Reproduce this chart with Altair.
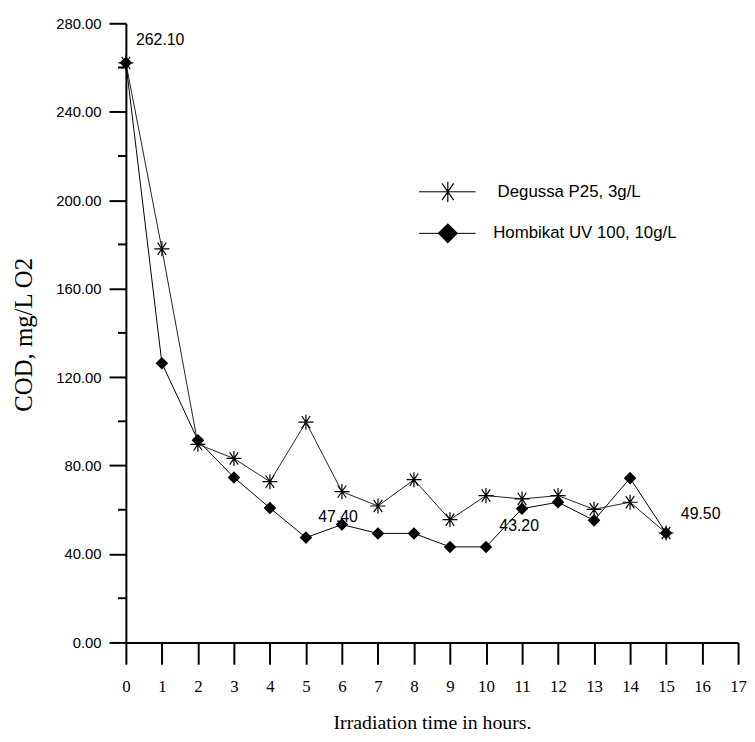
import altair as alt
import pandas as pd

# ---- data ----
hours = list(range(16))
degussa = [262.1, 178.0, 89.6, 83.2, 72.7, 99.6, 68.2, 61.7, 73.6, 55.5, 66.4, 64.9, 66.4, 60.2, 63.4, 49.5]
hombikat = [262.1, 126.3, 91.4, 74.6, 60.8, 47.4, 53.3, 49.3, 49.3, 43.2, 43.2, 60.5, 63.4, 55.2, 74.3, 49.5]

series_names = ["Degussa P25, 3g/L", "Hombikat UV 100, 10g/L"]

x_ticks = list(range(18))
y_ticks = [0, 40, 80, 120, 160, 200, 240, 280]
y_minor = [20, 60, 100, 140, 180, 220, 260]

ann_text = ["262.10", "47.40", "43.20", "49.50"]
ann_x = [0.28, 5.34, 10.37, 15.41]
ann_y = [272.5, 56.6, 52.6, 58.2]

# legend placement (data coordinates)
leg_y = [203.8, 185.0]
leg_line_x0 = [8.14, 8.14]
leg_line_x1 = [9.71, 9.71]
leg_sym_x = [8.94, 8.94]
leg_text_x = [10.32, 10.20]

STAR = "M0,-1L0,1M-1,0L1,0M-0.57,-0.82L0.57,0.82M-0.57,0.82L0.57,-0.82"
STAR_LEG = "M0,-1L0,1M-0.57,-0.82L0.57,0.82M-0.57,0.82L0.57,-0.82"

deg_df = pd.DataFrame({"h": hours, "v": degussa})
hom_df = pd.DataFrame({"h": hours, "v": hombikat})
ann_df = pd.DataFrame({"h": ann_x, "v": ann_y, "t": ann_text})
minor_df = pd.DataFrame({"v": y_minor})
leg_df = pd.DataFrame({"name": series_names, "v": leg_y, "x0": leg_line_x0,
                       "x1": leg_line_x1, "xs": leg_sym_x, "xt": leg_text_x})

xscale = alt.Scale(domain=[0, 17], nice=False, zero=False)
yscale = alt.Scale(domain=[0, 280], nice=False, zero=False)

xaxis = alt.Axis(values=x_ticks, tickSize=22, labelPadding=15, labelAngle=0,
                 labelFont="Liberation Serif", labelFontSize=17, labelColor="black",
                 labelOverlap=False, labelFlush=False,
                 title="Irradiation time in hours.", titleFont="Liberation Serif",
                 titleFontSize=20, titleFontWeight="normal", titleColor="black",
                 titleX=309, titleY=81, titleBaseline="middle", titleAlign="center",
                 grid=False, domainColor="black", domainWidth=2, tickColor="black",
                 tickWidth=2)
yaxis = alt.Axis(values=y_ticks, format=".2f", tickSize=17, labelPadding=8,
                 labelFont="Liberation Sans", labelFontSize=15, labelColor="black",
                 labelOverlap=False, labelFlush=False,
                 title="COD, mg/L O2", titleFont="Liberation Serif", titleFontSize=25,
                 titleFontWeight="normal", titleColor="black", titleAngle=270,
                 titleX=-103, titleY=314, titleBaseline="middle", titleAlign="center",
                 grid=False, domainColor="black", domainWidth=2, tickColor="black",
                 tickWidth=2)


def X(field):
    return alt.X(field, type="quantitative", scale=xscale, axis=xaxis)


def Y(field):
    return alt.Y(field, type="quantitative", scale=yscale, axis=yaxis)


deg_line = alt.Chart(deg_df).mark_line(color="#222", strokeWidth=1).encode(x=X("h"), y=Y("v"))
hom_line = alt.Chart(hom_df).mark_line(color="black", strokeWidth=1).encode(x=X("h"), y=Y("v"))
deg_pts = alt.Chart(deg_df).mark_point(shape=STAR, size=230, stroke="black",
                                       strokeWidth=1.2, filled=False, opacity=1).encode(x=X("h"), y=Y("v"))
hom_pts = alt.Chart(hom_df).mark_point(shape="diamond", size=160, filled=True,
                                       color="black", opacity=1).encode(x=X("h"), y=Y("v"))

minor = alt.Chart(minor_df).mark_rule(color="black", strokeWidth=2).encode(
    y=Y("v"), x=alt.value(-8), x2=alt.value(0))

ann = alt.Chart(ann_df).mark_text(font="Liberation Sans", fontSize=16, align="left",
                                  baseline="middle", color="black").encode(
    x=X("h"), y=Y("v"), text="t:N")

leg_lines = alt.Chart(leg_df).mark_rule(color="black", strokeWidth=1).encode(
    x=X("x0"), x2="x1:Q", y=Y("v"))
leg_star = alt.Chart(leg_df.iloc[[0]]).mark_point(shape=STAR_LEG, size=420, stroke="black",
                                                 strokeWidth=1.2, filled=False, opacity=1).encode(
    x=X("xs"), y=Y("v"))
leg_dia = alt.Chart(leg_df.iloc[[1]]).mark_point(shape="diamond", size=420, filled=True,
                                                color="black", opacity=1).encode(
    x=X("xs"), y=Y("v"))
leg_text = alt.Chart(leg_df).mark_text(font="Liberation Sans", fontSize=17, align="left",
                                       baseline="middle", color="black").encode(
    x=X("xt"), y=Y("v"), text="name:N")

chart = alt.layer(
    deg_line, hom_line, minor, deg_pts, hom_pts, ann, leg_lines, leg_star, leg_dia, leg_text
).properties(
    width=618, height=625,
    autosize=alt.AutoSizeParams(type="none"),
    padding={"left": 119, "top": 12, "right": 9, "bottom": 89},
).configure(background="white", view=alt.ViewConfig(strokeWidth=0))

chart.save("out.html", embed_options={"renderer": "svg", "actions": False})
